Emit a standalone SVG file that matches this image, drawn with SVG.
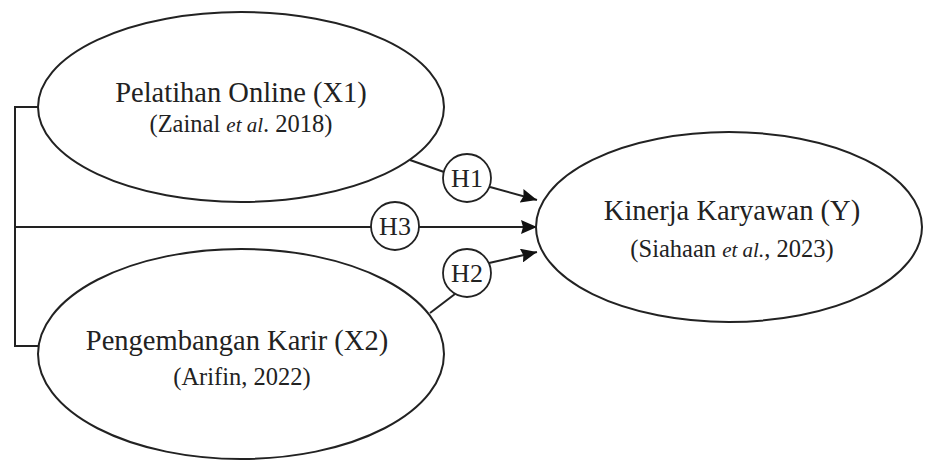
<svg xmlns="http://www.w3.org/2000/svg" width="933" height="461" viewBox="0 0 933 461">
<style>
.node ellipse{fill:#fff;stroke:#222;stroke-width:2}
.hc{fill:#fff;stroke:#222;stroke-width:1.8}
.t1{font-family:"Liberation Serif","Times New Roman",serif;font-size:28.5px;fill:#222;text-anchor:middle}
.t2{font-family:"Liberation Serif","Times New Roman",serif;font-size:24.5px;fill:#222;text-anchor:middle}
.it{font-style:italic;font-size:21px}
.h{font-family:"Liberation Serif","Times New Roman",serif;font-size:26px;fill:#222;text-anchor:middle}
.c{fill:none;stroke:#222;stroke-width:2}
</style>
<defs>
<marker id="arr" viewBox="0 0 16 14" refX="16" refY="7" markerWidth="16" markerHeight="14" markerUnits="userSpaceOnUse" orient="auto">
<path d="M0,0 L16,7 L0,14 L2,7 z" fill="#111"/>
</marker>
</defs>
<rect width="933" height="461" fill="#fff"/>
<g id="connectors">
<path class="c" d="M38,107 H15 V346 H38"/>
<path class="c" d="M15,227 H371"/>
<path class="c" d="M419,227 H537" marker-end="url(#arr)"/>
<path class="c" d="M410,160 L444,172"/>
<path class="c" d="M490,187 L537,200" marker-end="url(#arr)"/>
<path class="c" d="M430,313 L455,294"/>
<path class="c" d="M489,263 L537,252" marker-end="url(#arr)"/>
</g>
<g id="x1" class="node">
<ellipse cx="241" cy="107" rx="203" ry="95"/>
<text class="t1" x="241" y="102">Pelatihan Online (X1)</text>
<text class="t2" x="241" y="132">(Zainal <tspan class="it">et al</tspan>. 2018)</text>
</g>
<g id="x2" class="node">
<ellipse cx="241" cy="354" rx="203" ry="105"/>
<text class="t1" x="237" y="350">Pengembangan Karir (X2)</text>
<text class="t2" x="242" y="385">(Arifin, 2022)</text>
</g>
<g id="y" class="node">
<ellipse cx="729" cy="227" rx="193" ry="95"/>
<text class="t1" x="732" y="220">Kinerja Karyawan (Y)</text>
<text class="t2" x="732" y="257">(Siahaan <tspan class="it">et al.</tspan>, 2023)</text>
</g>
<g id="h1">
<circle class="hc" cx="467" cy="178" r="24"/>
<text class="h" x="467" y="187">H1</text>
</g>
<g id="h3">
<circle class="hc" cx="395" cy="226" r="24"/>
<text class="h" x="395" y="235">H3</text>
</g>
<g id="h2">
<circle class="hc" cx="467" cy="273" r="24"/>
<text class="h" x="467" y="282">H2</text>
</g>
</svg>
